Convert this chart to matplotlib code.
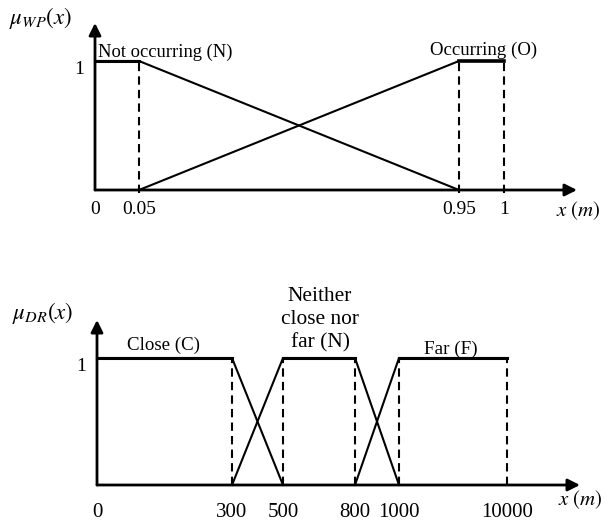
import numpy as np
import matplotlib
matplotlib.use("Agg")
import matplotlib.pyplot as plt

plt.rcParams['font.family'] = ['Liberation Serif', 'DejaVu Serif']
plt.rcParams['mathtext.fontset'] = 'stix'

# ---- data: water presence membership functions ----
wp_ticks = [0, 0.05, 0.95, 1]
wp_tick_labels = ['0', '0.05', '0.95', '1']
wp_N_x = [0, 0.05, 0.95]
wp_N_y = [1, 1, 0]
wp_O_x = [0.05, 0.95, 1]
wp_O_y = [0, 1, 1]
wp_dashed = [0.05, 0.95, 1]

# ---- data: distance membership functions ----
dr_ticks = [0, 300, 500, 800, 1000, 10000]
dr_tick_labels = ['0', '300', '500', '800', '1000', '10000']
dr_C_x = [0, 300, 500]
dr_C_y = [1, 1, 0]
dr_N_x = [300, 500, 800, 1000]
dr_N_y = [0, 1, 1, 0]
dr_F_x = [800, 1000, 10000]
dr_F_y = [0, 1, 1]
dr_dashed = [300, 500, 800, 1000, 10000]

W, H = 608, 523
fig = plt.figure(figsize=(W / 100, H / 100), dpi=100)


def add_axes(left, right, bottom, top):
    return fig.add_axes([left / W, (H - bottom) / H, (right - left) / W, (bottom - top) / H])


def set_piecewise_scale(ax, breaks, frac):
    breaks = np.asarray(breaks, float)
    frac = np.asarray(frac, float)
    fwd = lambda v: np.interp(v, breaks, frac)
    inv = lambda v: np.interp(v, frac, breaks)
    ax.set_xscale('function', functions=(fwd, inv))
    ax.set_xlim(breaks[0], breaks[-1])


def style_axes(ax, ytop_frac, xend_frac, xpad, xsize):
    for s in ax.spines.values():
        s.set_visible(False)
    ax.set_ylim(0, 1)
    ax.tick_params(axis='both', length=0, labelsize=14)
    ax.tick_params(axis='x', pad=xpad, labelsize=xsize)
    ax.set_yticks([1], ['1'])
    for lab in ax.get_yticklabels():
        lab.set_va('top')
    ax.tick_params(axis='y', pad=8)
    ap = dict(arrowstyle='-|>', lw=2, color='black', mutation_scale=18,
              shrinkA=0, shrinkB=0)
    ax.annotate('', xy=(0, ytop_frac), xytext=(0, 0), xycoords='axes fraction',
                arrowprops=ap, annotation_clip=False)
    ax.annotate('', xy=(xend_frac, 0), xytext=(0, 0), xycoords='axes fraction',
                arrowprops=ap, annotation_clip=False)


# ---------------- top chart ----------------
ax1 = add_axes(95, 504, 190, 61)
set_piecewise_scale(ax1, wp_ticks, np.array([0, 44, 364, 409]) / 409)
style_axes(ax1, 167 / 129, 482 / 409, 8, 14)
ax1.set_xticks(wp_ticks, wp_tick_labels)
ax1.plot(wp_N_x, wp_N_y, color='black', lw=1.5, clip_on=False, solid_capstyle='butt')
ax1.plot(wp_O_x, wp_O_y, color='black', lw=1.5, clip_on=False, solid_capstyle='butt')
ax1.plot(wp_N_x[:2], wp_N_y[:2], color='black', lw=2.2, clip_on=False)
ax1.plot(wp_O_x[1:], wp_O_y[1:], color='black', lw=2.6, clip_on=False)
ax1.vlines(wp_dashed, -0.02, 1, colors='black', linestyles=(0, (4, 2.5)), lw=1.5, clip_on=False)
ax1.text(-0.134, 1.333, r'$\mu_{WP}(x)$', transform=ax1.transAxes, ha='center', va='center', fontsize=16.5)
ax1.text(1.181, -0.163, r'$x\ (m)$', transform=ax1.transAxes, ha='center', va='center', fontsize=15)
ax1.text(0.171, 1.07, 'Not occurring (N)', transform=ax1.transAxes, ha='center', va='center', fontsize=13.3)
ax1.text(0.949, 1.085, 'Occurring (O)', transform=ax1.transAxes, ha='center', va='center', fontsize=13.6)

# ---------------- bottom chart ----------------
ax2 = add_axes(97, 507, 485, 358)
set_piecewise_scale(ax2, dr_ticks, np.array([0, 135, 186, 258, 302, 410]) / 410)
style_axes(ax2, 165 / 127, 483 / 410, 13, 15)
ax2.set_xticks(dr_ticks, dr_tick_labels)
for xs, ys in [(dr_C_x, dr_C_y), (dr_N_x, dr_N_y), (dr_F_x, dr_F_y)]:
    ax2.plot(xs, ys, color='black', lw=1.5, clip_on=False)
ax2.plot(dr_C_x[:2], dr_C_y[:2], color='black', lw=2.2, clip_on=False)
ax2.plot(dr_N_x[1:3], dr_N_y[1:3], color='black', lw=2.2, clip_on=False)
ax2.plot(dr_F_x[1:], dr_F_y[1:], color='black', lw=2.2, clip_on=False)
ax2.vlines(dr_dashed, 0, 1, colors='black', linestyles=(0, (4, 2.5)), lw=1.5, clip_on=False)
ax2.text(-0.132, 1.354, r'$\mu_{DR}(x)$', transform=ax2.transAxes, ha='center', va='center', fontsize=16.5)
ax2.text(1.180, -0.118, r'$x\ (m)$', transform=ax2.transAxes, ha='center', va='center', fontsize=15)
ax2.text(0.163, 1.102, 'Close (C)', transform=ax2.transAxes, ha='center', va='center', fontsize=13.6)
ax2.text(0.863, 1.071, 'Far (F)', transform=ax2.transAxes, ha='center', va='center', fontsize=13.8)
ax2.text(0.544, 1.30, 'Neither\nclose nor\nfar (N)', transform=ax2.transAxes, ha='center',
         va='center', fontsize=15.4, linespacing=1.3)

fig.savefig('out.png', dpi=100)
